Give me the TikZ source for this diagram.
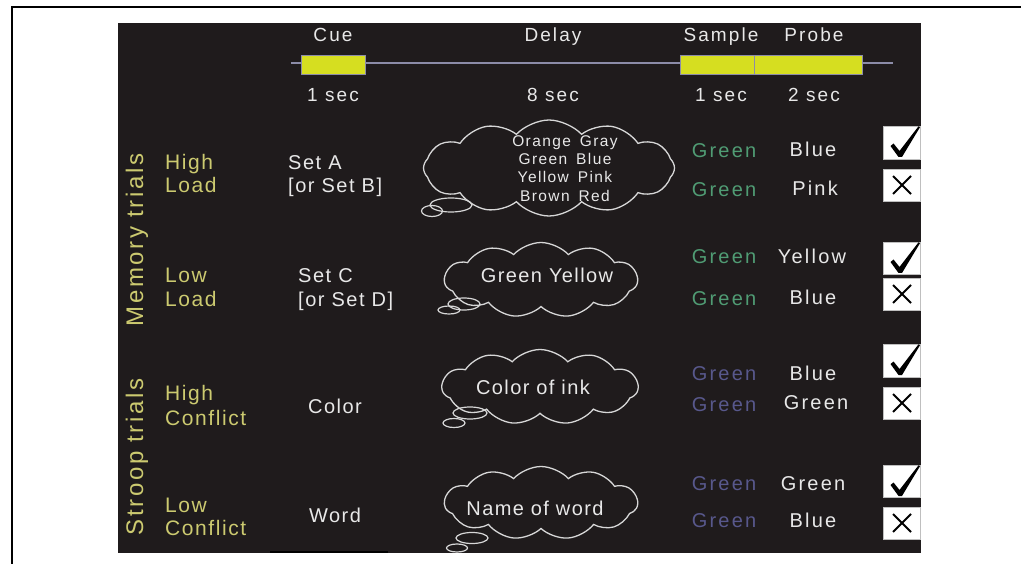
\documentclass[tikz,border=0pt]{standalone}
\usepackage{fontspec}
\setmainfont{Liberation Sans}
\newfontfamily\lsp[LetterSpace=11]{Liberation Sans}
\newfontfamily\msp[LetterSpace=7.5]{Liberation Sans}
\newfontfamily\csp[LetterSpace=7]{Liberation Sans}
\newfontfamily\ssp[LetterSpace=9]{Liberation Sans}
\usetikzlibrary{shapes.symbols,shapes.geometric}
\definecolor{panel}{RGB}{31,27,28}
\definecolor{ylw}{RGB}{204,202,112}
\definecolor{bary}{RGB}{214,222,32}
\definecolor{barline}{RGB}{140,140,168}
\definecolor{wtxt}{RGB}{232,232,232}
\definecolor{gtxt}{RGB}{80,156,116}
\definecolor{btxt}{RGB}{88,88,140}
\definecolor{cloudline}{RGB}{215,215,215}
\tikzset{
  toplab/.style={font=\lsp\fontsize{19}{22}\selectfont, text=wtxt, anchor=base, inner sep=0},
  ylab/.style={font=\msp\fontsize{21}{24}\selectfont, text=ylw, anchor=base west, inner sep=0},
  sidelab/.style={font=\lsp\fontsize{24}{28}\selectfont, text=ylw, anchor=base, rotate=90, inner sep=0},
  wlab/.style={font=\msp\fontsize{20}{24}\selectfont, text=wtxt, inner sep=0},
  samp/.style={font=\lsp\fontsize{20}{24}\selectfont, anchor=base, inner sep=0},
  cltxt/.style={font=\csp\fontsize{20}{24}\selectfont, text=wtxt, anchor=base, inner sep=0},
  cl1txt/.style={font=\ssp\fontsize{15.5}{18}\selectfont, text=wtxt, anchor=base, inner sep=0},
  thought/.style={cloud, cloud puffs=11, cloud puff arc=95, cloud ignores aspect, draw=cloudline, line width=1.3pt, inner sep=0},
  bubble/.style={ellipse, draw=cloudline, line width=1.2pt, inner sep=0},
  bar/.style={fill=bary, draw=barline, line width=1pt},
  ansbox/.style={rectangle, fill=white, draw=gray!50, line width=0.4pt, minimum width=37pt, inner sep=0, anchor=north west},
  pics/tickmark/.style={code={
    \fill[black] (7.5,20) -- (10.5,17.5) -- (16.5,25) -- (35.5,0.3) -- (37,1.2) -- (19,31) -- (15.5,31) -- cycle;}},
  pics/crossmark/.style={code={
    \draw[black, line width=2pt] (10,7) -- (28,25) (10,25) -- (28,7);}}
}
\begin{document}
\begin{tikzpicture}[x=1pt,y=-1pt]
\useasboundingbox (0,0) rectangle (1021,564);
% panel and frame
\fill[panel] (118,23) rectangle (921,553);
\fill[black] (270,550.5) rectangle (388,553);
\draw[black, line width=2pt] (1021,7) -- (11.5,7) -- (11.5,564);
% timeline
\coordinate (tl0) at (291,63);
\coordinate (tl1) at (893,63);
\draw[barline, line width=1.5pt] (tl0) -- (tl1);
\node[bar, rectangle, minimum width=64pt, minimum height=19pt, anchor=north west, inner sep=0] (cuebar) at (301,55.5) {};
\node[bar, rectangle, minimum width=74pt, minimum height=19pt, anchor=north west, inner sep=0] (sampbar) at (680,55) {};
\node[bar, rectangle, minimum width=108pt, minimum height=19pt, anchor=north west, inner sep=0] (probebar) at (754,55) {};
\node[toplab] (tcue) at (333,42) {Cue};
\node[toplab] (tdelay) at (553,42) {Delay};
\node[toplab] (tsample) at (721,42) {Sample};
\node[toplab] (tprobe) at (814,42) {Probe};
\node[toplab] (dcue) at (333,102) {1 sec};
\node[toplab] (ddelay) at (553,102) {8 sec};
\node[toplab] (dsample) at (721,102) {1 sec};
\node[toplab] (dprobe) at (814,102) {2 sec};
% side labels
\node[sidelab] (mem) at (143,240) {Memory trials};
\node[sidelab] (stroop) at (143,457) {Stroop trials};
\node[ylab] (l1a) at (165,170) {High};
\node[ylab] (l1b) at (165,193) {Load};
\node[ylab] (l2a) at (165,283) {Low};
\node[ylab] (l2b) at (165,307) {Load};
\node[ylab] (l3a) at (165,400) {High};
\node[ylab] (l3b) at (165,425) {Conflict};
\node[ylab] (l4a) at (165,512) {Low};
\node[ylab] (l4b) at (165,535) {Conflict};
% cue column
\node[wlab, anchor=base west] (c1a) at (288,170) {Set A};
\node[wlab, anchor=base west] (c1b) at (288,193) {[or Set B]};
\node[wlab, anchor=base west] (c2a) at (298,283) {Set C};
\node[wlab, anchor=base west] (c2b) at (298,307) {[or Set D]};
\node[wlab, anchor=base] (c3) at (335,413) {Color};
\node[wlab, anchor=base] (c4) at (335,522) {Word};
% clouds
\node[thought, cloud puffs=12, minimum width=251pt, minimum height=96pt] (cl1) at (549,168) {};
\node[thought, minimum width=193pt, minimum height=75pt] (cl2) at (541,280) {};
\node[thought, minimum width=196pt, minimum height=75pt] (cl3) at (540,387) {};
\node[thought, minimum width=193pt, minimum height=73pt] (cl4) at (541,503) {};
\node[bubble, minimum width=42pt, minimum height=14pt] (b1a) at (451,205) {};
\node[bubble, minimum width=21pt, minimum height=11pt] (b1b) at (432,211) {};
\node[bubble, minimum width=32pt, minimum height=12pt] (b2a) at (464,304) {};
\node[bubble, minimum width=22pt, minimum height=8pt] (b2b) at (449,310) {};
\node[bubble, minimum width=34pt, minimum height=12pt] (b3a) at (470,413) {};
\node[bubble, minimum width=22pt, minimum height=9pt] (b3b) at (454,423) {};
\node[bubble, minimum width=32pt, minimum height=11pt] (b4a) at (472,538) {};
\node[bubble, minimum width=21pt, minimum height=8pt] (b4b) at (457,548) {};
\node[cl1txt] (w1) at (565,147) {Orange\hspace{9pt}Gray};
\node[cl1txt] (w2) at (565,165) {Green\hspace{9pt}Blue};
\node[cl1txt] (w3) at (565,183) {Yellow\hspace{9pt}Pink};
\node[cl1txt] (w4) at (565,202) {Brown\hspace{9pt}Red};
\node[cltxt] (w5) at (547,283) {Green Yellow};
\node[cltxt] (w6) at (533,394) {Color of ink};
\node[cltxt] (w7) at (535,515) {Name of word};
% sample column
\node[samp, text=gtxt] (s1) at (724,158) {Green};
\node[samp, text=gtxt] (s2) at (724,197) {Green};
\node[samp, text=gtxt] (s3) at (724,264) {Green};
\node[samp, text=gtxt] (s4) at (724,306) {Green};
\node[samp, text=btxt] (s5) at (724,381) {Green};
\node[samp, text=btxt] (s6) at (724,411) {Green};
\node[samp, text=btxt] (s7) at (724,490) {Green};
\node[samp, text=btxt] (s8) at (724,527) {Green};
% probe column
\node[samp, text=wtxt] (p1) at (813,157) {Blue};
\node[samp, text=wtxt] (p2) at (815,196) {Pink};
\node[samp, text=wtxt] (p3) at (812,264) {Yellow};
\node[samp, text=wtxt] (p4) at (813,305) {Blue};
\node[samp, text=wtxt] (p5) at (813,380) {Blue};
\node[samp, text=wtxt] (p6) at (816,409) {Green};
\node[samp, text=wtxt] (p7) at (813,490) {Green};
\node[samp, text=wtxt] (p8) at (813,527) {Blue};
% answer boxes
\node[ansbox, minimum height=33pt] (k1) at (883,126) {};
\node[ansbox, minimum height=32pt] (x1) at (883,169) {};
\node[ansbox, minimum height=32pt] (k2) at (883,242) {};
\node[ansbox, minimum height=32pt] (x2) at (883,278) {};
\node[ansbox, minimum height=33pt] (k3) at (883,344) {};
\node[ansbox, minimum height=32pt] (x3) at (883,387) {};
\node[ansbox, minimum height=32pt] (k4) at (883,465) {};
\node[ansbox, minimum height=32pt] (x4) at (883,507) {};
\pic at (k1.north west) {tickmark};
\pic at (k2.north west) {tickmark};
\pic at (k3.north west) {tickmark};
\pic at (k4.north west) {tickmark};
\pic at (x1.north west) {crossmark};
\pic at (x2.north west) {crossmark};
\pic at (x3.north west) {crossmark};
\pic at (x4.north west) {crossmark};
\end{tikzpicture}
\end{document}
